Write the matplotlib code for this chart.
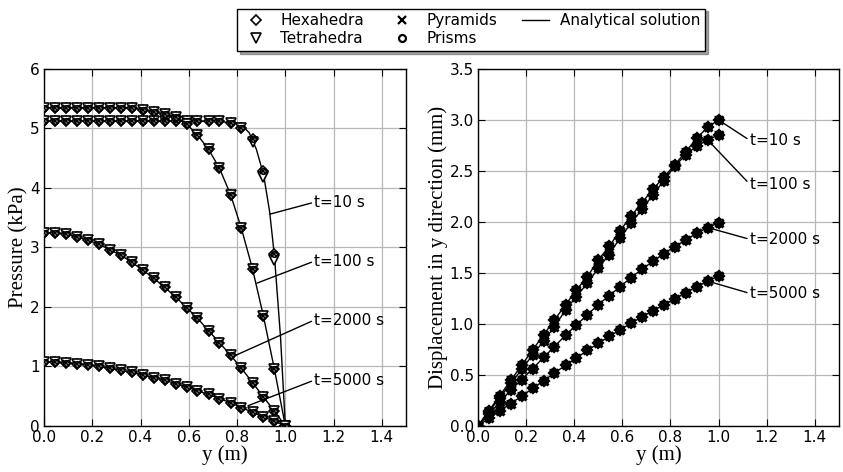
import matplotlib
matplotlib.use("Agg")
import matplotlib.pyplot as plt
from matplotlib.lines import Line2D

# Mesh node coordinates along the column (m)
y_nodes = [0.0, 0.045, 0.091, 0.136, 0.182, 0.227, 0.273, 0.318, 0.364, 0.409, 0.455,
           0.5, 0.545, 0.591, 0.636, 0.682, 0.727, 0.773, 0.818, 0.864, 0.909, 0.955, 1.0]

# Pore pressure (kPa) at the nodes
p_t10_hex = [5.12, 5.12, 5.12, 5.12, 5.12, 5.12, 5.12, 5.12, 5.12, 5.12, 5.12, 5.12,
             5.12, 5.12, 5.12, 5.12, 5.12, 5.09, 5.01, 4.82, 4.29, 2.89, 0.0]
p_t10_tet = [5.12, 5.12, 5.12, 5.12, 5.12, 5.12, 5.12, 5.12, 5.12, 5.12, 5.12, 5.12,
             5.12, 5.12, 5.12, 5.12, 5.12, 5.09, 5.01, 4.77, 4.18, 2.79, 0.0]
p_t100 = [5.35, 5.35, 5.35, 5.35, 5.35, 5.35, 5.35, 5.35, 5.35, 5.31, 5.28, 5.24,
          5.19, 5.075, 4.89, 4.65, 4.33, 3.89, 3.32, 2.64, 1.85, 0.95, 0.0]
p_t2000 = [3.25, 3.24, 3.23, 3.18, 3.12, 3.06, 2.96, 2.87, 2.75, 2.62, 2.48, 2.33,
           2.17, 1.99, 1.81, 1.60, 1.40, 1.19, 0.97, 0.73, 0.49, 0.25, 0.0]
p_t5000 = [1.07, 1.07, 1.06, 1.05, 1.025, 1.00, 0.97, 0.935, 0.90, 0.857, 0.81, 0.77,
           0.71, 0.655, 0.59, 0.53, 0.46, 0.39, 0.31, 0.23, 0.15, 0.08, 0.0]

# Analytical pressure at t=10 s on a finer set of points near the drained boundary
y_an_t10 = [0.0, 0.7, 0.78, 0.82, 0.85, 0.88, 0.91, 0.935, 0.955, 0.98, 1.0]
p_an_t10 = [5.12, 5.12, 5.10, 5.05, 4.93, 4.65, 4.22, 3.60, 2.85, 1.50, 0.0]

# Vertical displacement (mm) at the nodes
u_t10 = [0.0, 0.149, 0.298, 0.447, 0.596, 0.745, 0.894, 1.04, 1.187, 1.333, 1.464, 1.627,
         1.76, 1.915, 2.055, 2.19, 2.32, 2.44, 2.56, 2.69, 2.82, 2.93, 3.0]
u_t100 = [0.0, 0.139, 0.278, 0.417, 0.556, 0.695, 0.834, 0.974, 1.137, 1.268, 1.40, 1.546,
          1.68, 1.845, 1.987, 2.124, 2.265, 2.405, 2.549, 2.657, 2.745, 2.804, 2.853]
u_t2000 = [0.0, 0.115, 0.235, 0.35, 0.455, 0.562, 0.672, 0.778, 0.89, 0.99, 1.09, 1.19,
           1.277, 1.366, 1.454, 1.537, 1.614, 1.69, 1.758, 1.824, 1.889, 1.945, 1.993]
u_t5000 = [0.0, 0.075, 0.148, 0.22, 0.293, 0.368, 0.443, 0.52, 0.595, 0.668, 0.74, 0.81,
           0.878, 0.943, 1.008, 1.07, 1.13, 1.188, 1.246, 1.307, 1.366, 1.42, 1.47]

time_labels = ["t=10 s", "t=100 s", "t=2000 s", "t=5000 s"]

x_ticks = [0.0, 0.2, 0.4, 0.6, 0.8, 1.0, 1.2, 1.4]
p_ticks = [0, 1, 2, 3, 4, 5, 6]
u_ticks = [0.0, 0.5, 1.0, 1.5, 2.0, 2.5, 3.0, 3.5]

serif = ["Liberation Serif", "DejaVu Serif"]
plt.rcParams["font.family"] = "DejaVu Sans"

mk = dict(ls="none", mec="black")
styles = {
    "hex": dict(marker="D", ms=5.5, mfc="white", mew=1.2, **mk),
    "tet": dict(marker="v", ms=7, mfc="white", mew=1.2, **mk),
    "pyr": dict(marker="x", ms=5, mew=1.2, **mk),
    "pri": dict(marker="o", ms=4, mfc="white", mew=1.2, **mk),
}
# Displacement markers sit on top of each other and merge into compact blocks
styles_u = {
    "hex": dict(marker="D", ms=5, mfc="white", mew=1.6, **mk),
    "tet": dict(marker="v", ms=4.5, mfc="white", mew=1.6, **mk),
    "pyr": dict(marker="x", ms=5.5, mew=2.2, **mk),
    "pri": dict(marker="o", ms=4.5, mfc="white", mew=1.6, **mk),
}

fig = plt.figure(figsize=(8.43, 4.72), dpi=100)
ax1 = fig.add_axes([0.0522, 0.0975, 0.4294, 0.7564])
ax2 = fig.add_axes([0.567, 0.0975, 0.428, 0.7564])


def style_axes(ax, yticks, ylim, ylabel, yfmt):
    ax.set_xlim(0, 1.5)
    ax.set_ylim(*ylim)
    ax.set_xticks(x_ticks)
    ax.set_xticklabels([f"{v:.1f}" for v in x_ticks])
    ax.set_yticks(yticks)
    ax.set_yticklabels([yfmt.format(v) for v in yticks])
    ax.grid(True, color="#b8b8b8", lw=0.9)
    ax.set_axisbelow(True)
    ax.tick_params(direction="in", top=True, right=True, length=5, width=0.8,
                   labelsize=11, pad=3)
    ax.set_xlabel("y (m)", family=serif, fontsize=15, labelpad=0)
    ax.set_ylabel(ylabel, family=serif, fontsize=15, labelpad=1)
    for s in ax.spines.values():
        s.set_linewidth(1.0)


def draw_markers(ax, values, st, tet_values=None):
    ax.plot(y_nodes, values, zorder=3, **st["hex"])
    ax.plot(y_nodes, values if tet_values is None else tet_values, zorder=3, **st["tet"])
    ax.plot(y_nodes, values, zorder=3, **st["pri"])
    ax.plot(y_nodes, values, zorder=3, **st["pyr"])


# Pressure profiles
ax1.plot(y_an_t10, p_an_t10, color="black", lw=1.0, zorder=2)
for p in (p_t100, p_t2000, p_t5000):
    ax1.plot(y_nodes, p, color="black", lw=1.0, zorder=2)
draw_markers(ax1, p_t10_hex, styles, p_t10_tet)
for p in (p_t100, p_t2000, p_t5000):
    draw_markers(ax1, p, styles)
style_axes(ax1, p_ticks, (0, 6), "Pressure (kPa)", "{:d}")

p_anchor = [(0.936, 3.56), (0.882, 2.40), (0.79, 1.18), (0.845, 0.34)]
p_text_y = [3.76, 2.77, 1.78, 0.77]
for lab, xy, ty in zip(time_labels, p_anchor, p_text_y):
    ax1.annotate(lab, xy=xy, xytext=(1.12, ty), fontsize=11, ha="left", va="center",
                 arrowprops=dict(arrowstyle="-", color="black", lw=1.0,
                                 shrinkA=0, shrinkB=0, relpos=(0, 0.5)),
                 annotation_clip=False)

# Displacement profiles
for u in (u_t10, u_t100, u_t2000, u_t5000):
    ax2.plot(y_nodes, u, color="black", lw=1.0, zorder=2)
    draw_markers(ax2, u, styles_u)
style_axes(ax2, u_ticks, (0, 3.5), "Displacement in y direction (mm)", "{:.1f}")

u_anchor = [(1.0, u_t10[-1]), (0.955, u_t100[-2]), (0.955, u_t2000[-2]), (0.955, u_t5000[-2])]
u_text_y = [2.80, 2.37, 1.83, 1.30]
for lab, xy, ty in zip(time_labels, u_anchor, u_text_y):
    ax2.annotate(lab, xy=xy, xytext=(1.13, ty), fontsize=11, ha="left", va="center",
                 arrowprops=dict(arrowstyle="-", color="black", lw=1.0,
                                 shrinkA=0, shrinkB=0, relpos=(0, 0.5)),
                 annotation_clip=False)

# Shared legend
handles = [
    Line2D([], [], **styles["hex"]),
    Line2D([], [], **styles["tet"]),
    Line2D([], [], **dict(styles["pyr"], ms=6, mew=1.6)),
    Line2D([], [], **dict(styles["pri"], ms=5, mew=1.6)),
    Line2D([], [], color="black", lw=1.0),
]
labels = ["Hexahedra", "Tetrahedra", "Pyramids", "Prisms", "Analytical solution"]
leg = fig.legend(handles, labels, loc="upper center", bbox_to_anchor=(0.559, 0.998),
                 ncol=3, fontsize=11, frameon=True, fancybox=False, shadow=True,
                 edgecolor="black", borderpad=0.3, labelspacing=0.2,
                 handletextpad=0.7, columnspacing=1.6, handlelength=1.8)
leg.get_frame().set_linewidth(1.0)

fig.savefig("out.png", dpi=100)
